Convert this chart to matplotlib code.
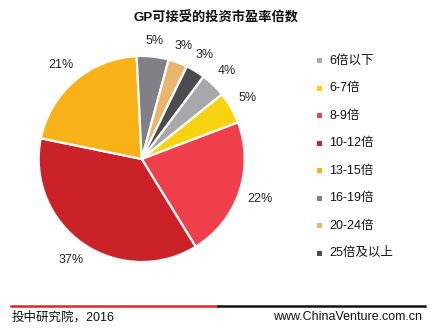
import numpy as np
import matplotlib
matplotlib.use("Agg")
import matplotlib.pyplot as plt
from matplotlib.lines import Line2D
from matplotlib.patches import Rectangle

plt.rcParams['font.family'] = ['Liberation Sans', 'Noto Sans CJK SC', 'DejaVu Sans']

categories = ['6倍以下', '6-7倍', '8-9倍', '10-12倍', '13-15倍', '16-19倍', '20-24倍', '25倍及以上']
shares = [4, 5, 22, 37, 21, 5, 3, 3]
colors = ['#a8a8aa', '#f6d20f', '#ee3f4b', '#cb2129', '#f8b117', '#808086', '#e9b56d', '#4b4b50']

W, H = 432, 332
fig = plt.figure(figsize=(W / 100, H / 100), dpi=100)

# pie placement in pixel terms
cx, cy, r = 141.7, 159.0, 103.0
ax = fig.add_axes([(cx - r) / W, (H - cy - r) / H, 2 * r / W, 2 * r / H])
wedges, texts = ax.pie(
    shares,
    colors=colors,
    startangle=53.2,
    counterclock=False,
    labels=[f'{v}%' for v in shares],
    labeldistance=1.19,
    wedgeprops=dict(edgecolor='white', linewidth=1.6),
    textprops=dict(fontsize=9, color='#222222'),
)
ax.set_xlim(-1, 1)
ax.set_ylim(-1, 1)
ax.set_aspect('equal')
ax.axis('off')

# place each percentage just outside the rim, keeping a constant gap to its box
fig.canvas.draw()
renderer = fig.canvas.get_renderer()
gap = 8.5
for w, t in zip(wedges, texts):
    t.set_horizontalalignment('center')
    t.set_verticalalignment('center')
    bb = t.get_window_extent(renderer)
    theta = np.deg2rad((w.theta1 + w.theta2) / 2)
    ext = abs(np.cos(theta)) * bb.width / 2 + abs(np.sin(theta)) * bb.height / 2
    d = (r + gap + ext) / r
    t.set_position((d * np.cos(theta), d * np.sin(theta)))

fig.text(216 / W, 1 - 18 / H, 'GP可接受的投资市盈率倍数', ha='center', va='center',
         fontsize=9.5, fontweight='bold', color='#111111')

# legend: small square swatches with labels
y0, dy = 60.8, 27.5
for i, (name, c) in enumerate(zip(categories, colors)):
    y = y0 + i * dy
    fig.patches.append(Rectangle((316.5 / W, 1 - (y + 2.5) / H), 5 / W, 5 / H,
                                 transform=fig.transFigure, facecolor=c, edgecolor='none'))
    fig.text(329 / W, 1 - y / H, name, ha='left', va='center', fontsize=9, color='#111111')

# footer rule: red half then black half
fig.add_artist(Line2D([11 / W, 218 / W], [1 - 305.5 / H] * 2, color='#ee1c24', linewidth=1.8,
                      transform=fig.transFigure))
fig.add_artist(Line2D([218 / W, 425 / W], [1 - 305.5 / H] * 2, color='#111111', linewidth=1.8,
                      transform=fig.transFigure))
fig.text(12 / W, 1 - 317 / H, '投中研究院，2016', ha='left', va='center', fontsize=9, color='#111111')
fig.text(422 / W, 1 - 317 / H, 'www.ChinaVenture.com.cn', ha='right', va='center', fontsize=9,
         color='#111111')

fig.savefig('out.png', dpi=100, facecolor='white')
